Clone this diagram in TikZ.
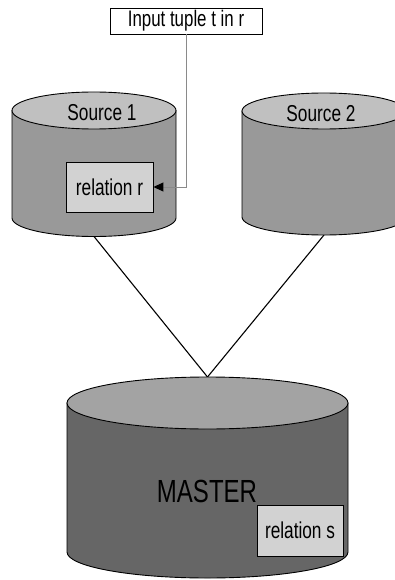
\documentclass[tikz,border=0pt]{standalone}
\usepackage{fontspec}
\setmainfont{Liberation Sans}
\newfontfamily\narrowsans[FakeStretch=0.75]{Liberation Sans}
\usetikzlibrary{arrows.meta}

\definecolor{srcbody}{HTML}{999999}
\definecolor{srctop}{HTML}{C0C0C0}
\definecolor{mstbody}{HTML}{666666}
\definecolor{msttop}{HTML}{A3A3A3}
\definecolor{relfill}{HTML}{D2D2D2}
\definecolor{feedline}{HTML}{8A8A8A}

% database cylinder: centre x, top-ellipse y, bottom-ellipse y, x radius, y radius, body fill, lid fill
\newcommand\dbcylinder[7]{%
  \filldraw[fill=#6] (#1-#4,#2) -- (#1-#4,#3)
    arc[start angle=180,end angle=0,x radius=#4,y radius=#5] -- (#1+#4,#2) -- cycle;
  \filldraw[fill=#7] (#1,#2) ellipse[x radius=#4,y radius=#5];
}

\begin{document}
\begin{tikzpicture}[x=1pt,y=-1pt,line width=0.9pt,
  lbl/.style={font=\narrowsans\fontsize{23}{26}\selectfont,inner sep=0pt},
  relbox/.style={lbl,draw,fill=relfill,minimum width=87pt,minimum height=50pt},
  link/.style={draw=black,line width=1.1pt}]
\useasboundingbox (0,0) rectangle (395,580);

% connection points
\coordinate (s1bot) at (94,236.5);
\coordinate (s2bot) at (324,235);
\coordinate (mtop) at (207.5,377);

% links from sources into the master database
\draw[link] (s1bot) -- (mtop);
\draw[link] (s2bot) -- (mtop);

% cylinders
\dbcylinder{94}{110.5}{218}{82}{18.5}{srcbody}{srctop}
\dbcylinder{324}{111}{217}{82}{18}{srcbody}{srctop}
\dbcylinder{207.5}{403}{552}{140.5}{26}{mstbody}{msttop}

% labels
\node[lbl] (src1) at (102,112.5) {Source 1};
\node[lbl] (src2) at (321,113.5) {Source 2};
\node[lbl,font=\narrowsans\fontsize{32}{35}\selectfont] (master) at (207,491.5) {MASTER};

\node[relbox] (relr) at (109.5,187) {relation r};
\node[relbox,minimum width=86pt,minimum height=51pt] (rels) at (300,530.5) {relation s};

\node[lbl,draw,fill=white,minimum width=152pt,minimum height=26pt,font=\narrowsans\fontsize{22.5}{24}\selectfont] (inp) at (186,21) {Input tuple t in r};

% input tuple feeding into relation r
\draw[draw=feedline,line width=1pt,-{Triangle[length=10pt,width=9pt,color=black]}]
  (inp.south) |- (relr.east);
\end{tikzpicture}
\end{document}
